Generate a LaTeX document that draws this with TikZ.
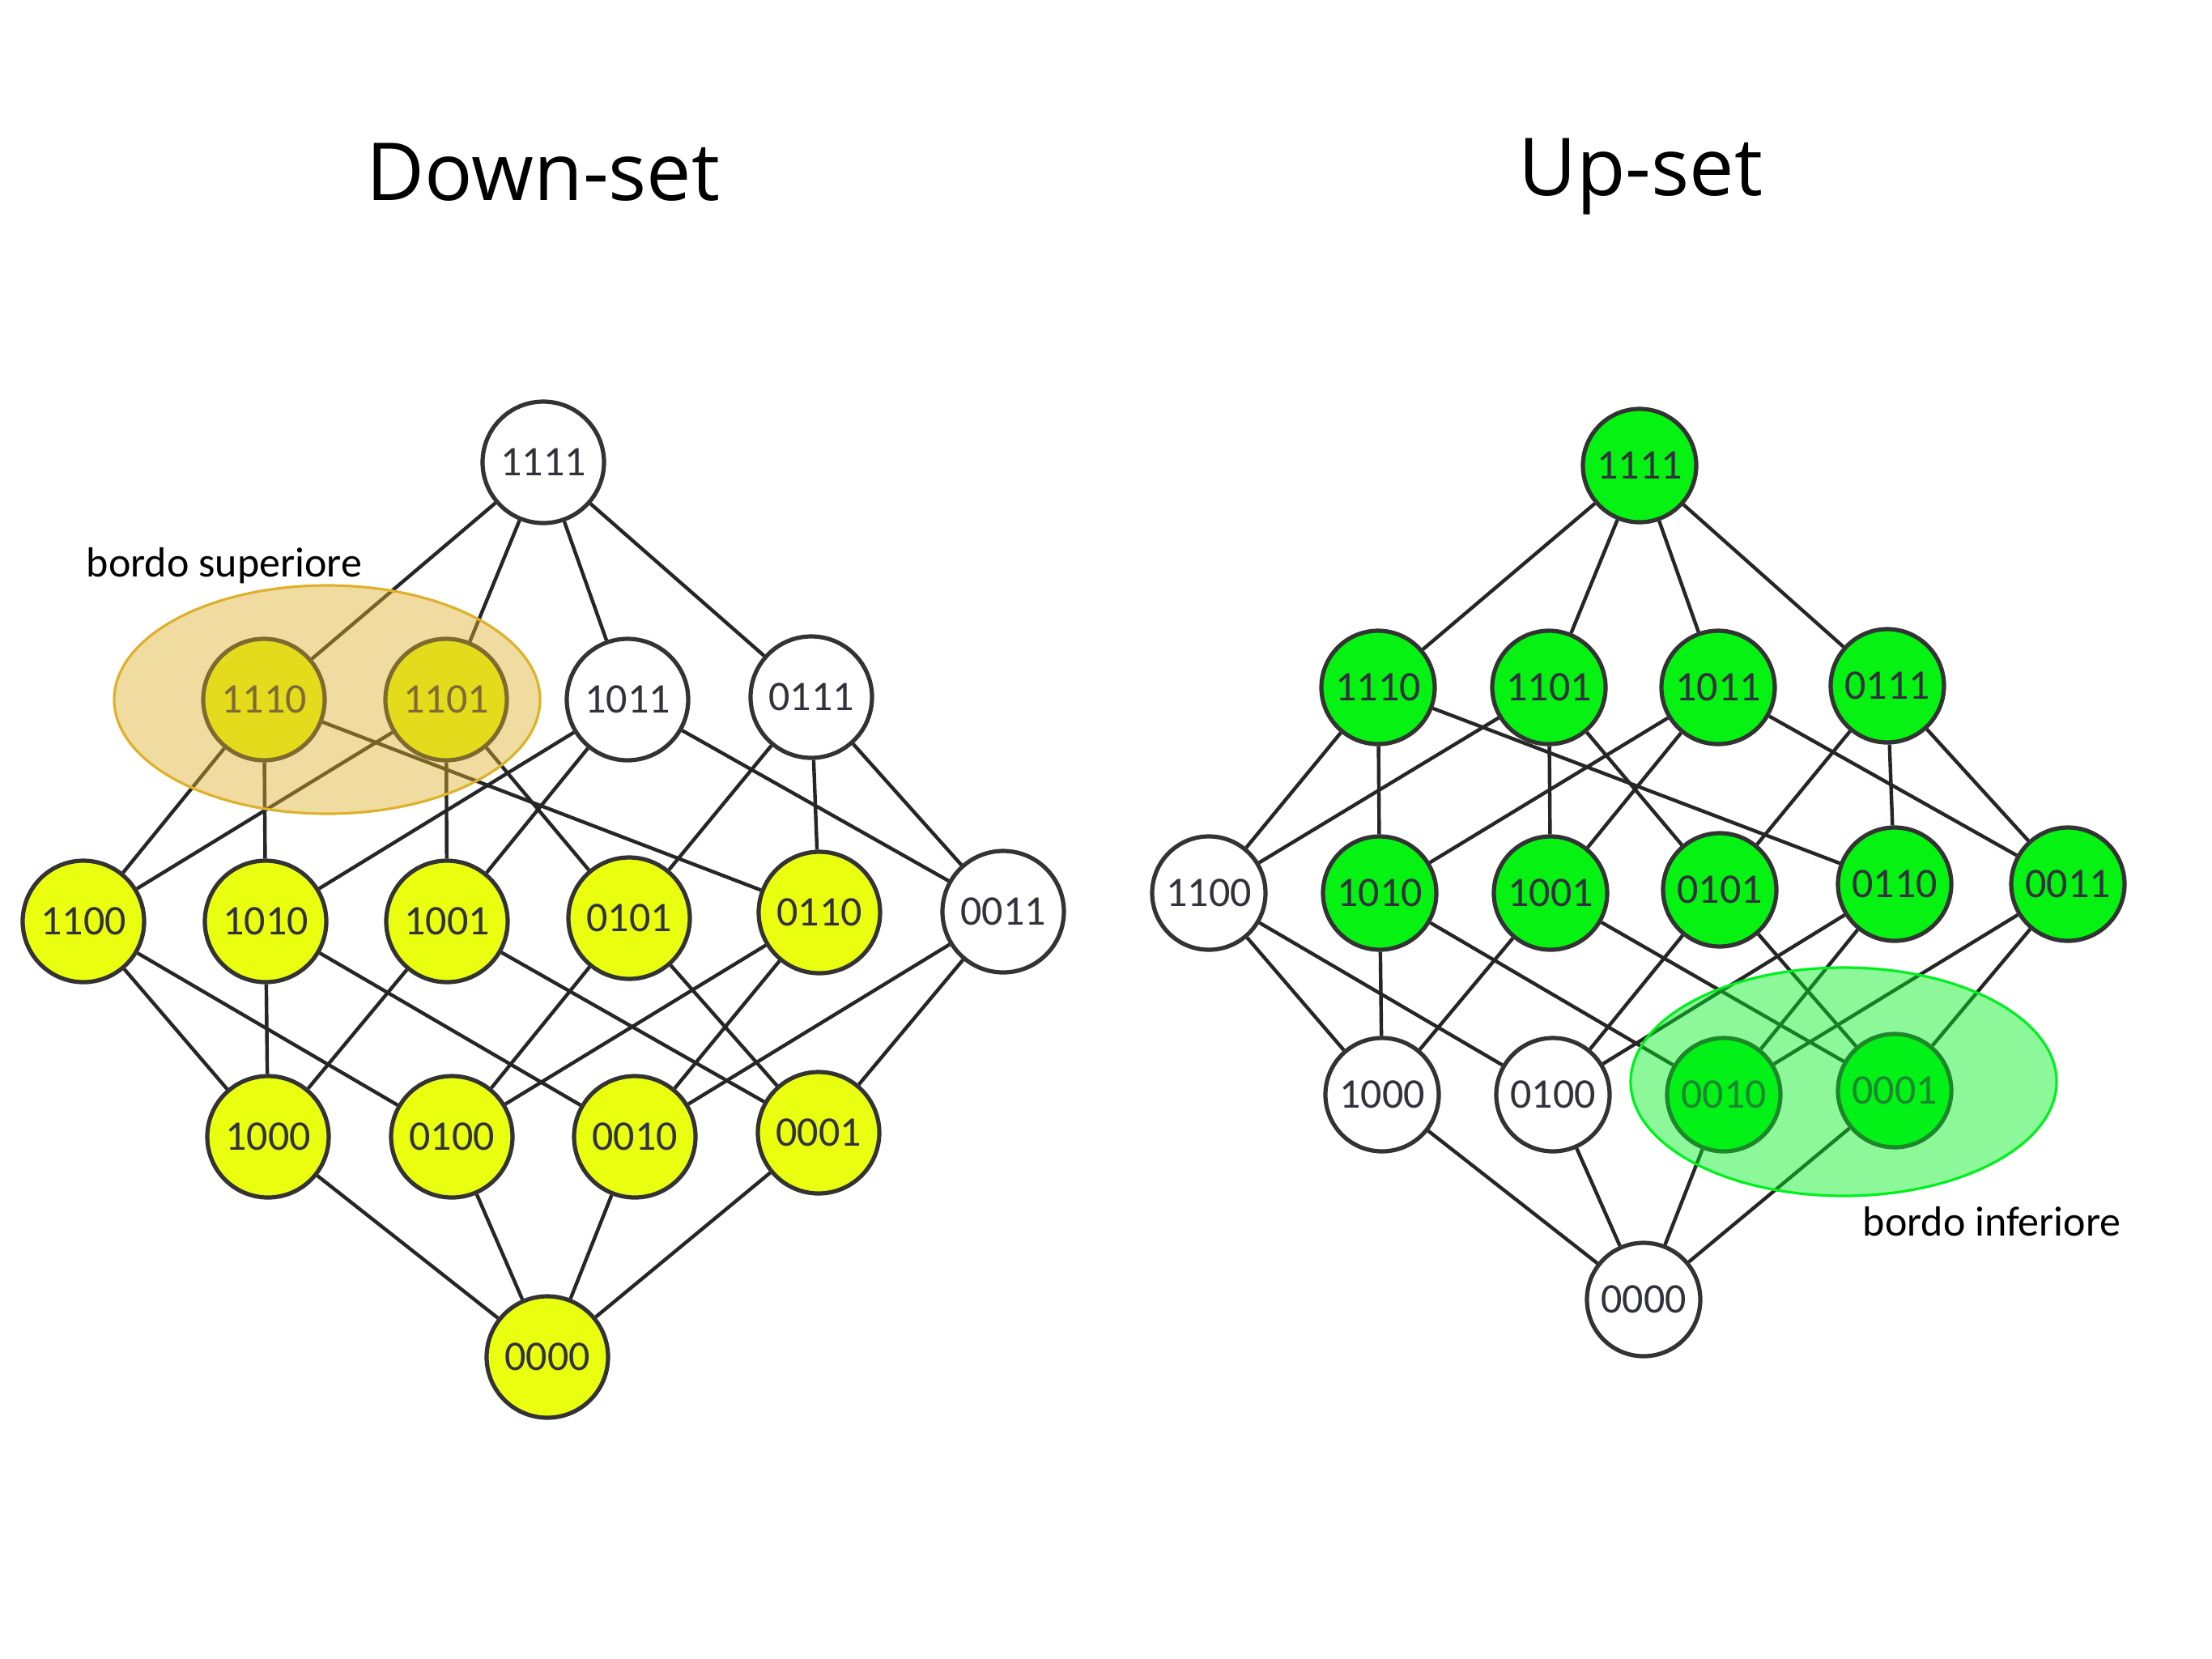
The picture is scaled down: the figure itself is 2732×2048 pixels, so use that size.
\documentclass[tikz,border=0pt]{standalone}
\usepackage{fontspec}
\setmainfont{Carlito}
\newfontfamily\titlefont{Open Sans}
\usepackage{tikz}

\definecolor{downyellow}{RGB}{234,255,16}
\definecolor{upgreen}{RGB}{5,242,18}
\definecolor{supcol}{RGB}{222,177,44}
\definecolor{infcol}{RGB}{0,240,30}
\definecolor{lbltext}{RGB}{50,50,60}

\tikzset{
  vtx/.style={circle, draw=black!80, line width=1.3pt, minimum size=37.5pt, inner sep=0pt, font=\fontsize{13}{15}\selectfont, text=lbltext, fill=white},
  downvtx/.style={vtx, fill=downyellow},
  upvtx/.style={vtx, minimum size=35pt},
  greenvtx/.style={upvtx, fill=upgreen},
  link/.style={draw=black!85, line width=1.1pt},
}

\begin{document}
\begin{tikzpicture}[x=0.25pt,y=0.25pt,yscale=-1,xscale=1]
\useasboundingbox (0,0) rectangle (2732,2048);

% titles
\node (tdown) at (671,213) {\titlefont\fontsize{24.7}{30}\selectfont Down-set};
\node (tup) at (2026,218) {\titlefont\fontsize{24.7}{30}\selectfont Up-set};

%Down-set lattice
\node [vtx] (l1111) at (671,571) {1111};
\node [downvtx] (l1110) at (326,864) {1110};
\node [downvtx] (l1101) at (551,864) {1101};
\node [vtx] (l1011) at (775,864) {1011};
\node [vtx] (l0111) at (1002,861) {0111};
\node [downvtx] (l1100) at (103,1138) {1100};
\node [downvtx] (l1010) at (328,1138) {1010};
\node [downvtx] (l1001) at (552,1138) {1001};
\node [downvtx] (l0101) at (777,1134) {0101};
\node [downvtx] (l0110) at (1012,1127) {0110};
\node [vtx] (l0011) at (1239,1126) {0011};
\node [downvtx] (l1000) at (331,1404) {1000};
\node [downvtx] (l0100) at (558,1404) {0100};
\node [downvtx] (l0010) at (784,1404) {0010};
\node [downvtx] (l0001) at (1011,1399) {0001};
\node [downvtx] (l0000) at (676,1676) {0000};

%Up-set lattice
\node [greenvtx] (r1111) at (2025,575) {1111};
\node [greenvtx] (r1110) at (1702,849) {1110};
\node [greenvtx] (r1101) at (1913,849) {1101};
\node [greenvtx] (r1011) at (2122,849) {1011};
\node [greenvtx] (r0111) at (2331,847) {0111};
\node [upvtx] (r1100) at (1493,1103) {1100};
\node [greenvtx] (r1010) at (1704,1103) {1010};
\node [greenvtx] (r1001) at (1915,1103) {1001};
\node [greenvtx] (r0101) at (2124,1099) {0101};
\node [greenvtx] (r0110) at (2340,1092) {0110};
\node [greenvtx] (r0011) at (2554,1092) {0011};
\node [upvtx] (r1000) at (1707,1352) {1000};
\node [upvtx] (r0100) at (1918,1352) {0100};
\node [greenvtx] (r0010) at (2129,1352) {0010};
\node [greenvtx] (r0001) at (2340,1347) {0001};
\node [upvtx] (r0000) at (2030,1605) {0000};

%cover relations
\foreach \s in {l,r}
  \foreach \a/\b in {1111/1110, 1111/1101, 1111/1011, 1111/0111,
                     1110/1100, 1110/1010, 1110/0110,
                     1101/1100, 1101/1001, 1101/0101,
                     1011/1010, 1011/1001, 1011/0011,
                     0111/0110, 0111/0101, 0111/0011,
                     1100/1000, 1100/0100, 1010/1000, 1010/0010,
                     1001/1000, 1001/0001, 0101/0100, 0101/0001,
                     0110/0100, 0110/0010, 0011/0010, 0011/0001,
                     1000/0000, 0100/0000, 0010/0000, 0001/0000}
    \draw [link] (\s\a) -- (\s\b);

%Ellipses
\draw [draw=supcol, line width=0.8pt, fill=supcol, fill opacity=0.45] (404,864) ellipse [x radius=263, y radius=141];
\draw [draw=infcol, line width=0.8pt, fill=infcol, fill opacity=0.45] (2277,1336) ellipse [x radius=263, y radius=141];

% Text Node
\node [anchor=west, inner sep=0pt, font=\fontsize{13}{15}\selectfont] (bsup) at (106,699) {bordo superiore};
% Text Node
\node [anchor=west, inner sep=0pt, font=\fontsize{13}{15}\selectfont] (binf) at (2300,1509) {bordo inferiore};

\end{tikzpicture}
\end{document}
